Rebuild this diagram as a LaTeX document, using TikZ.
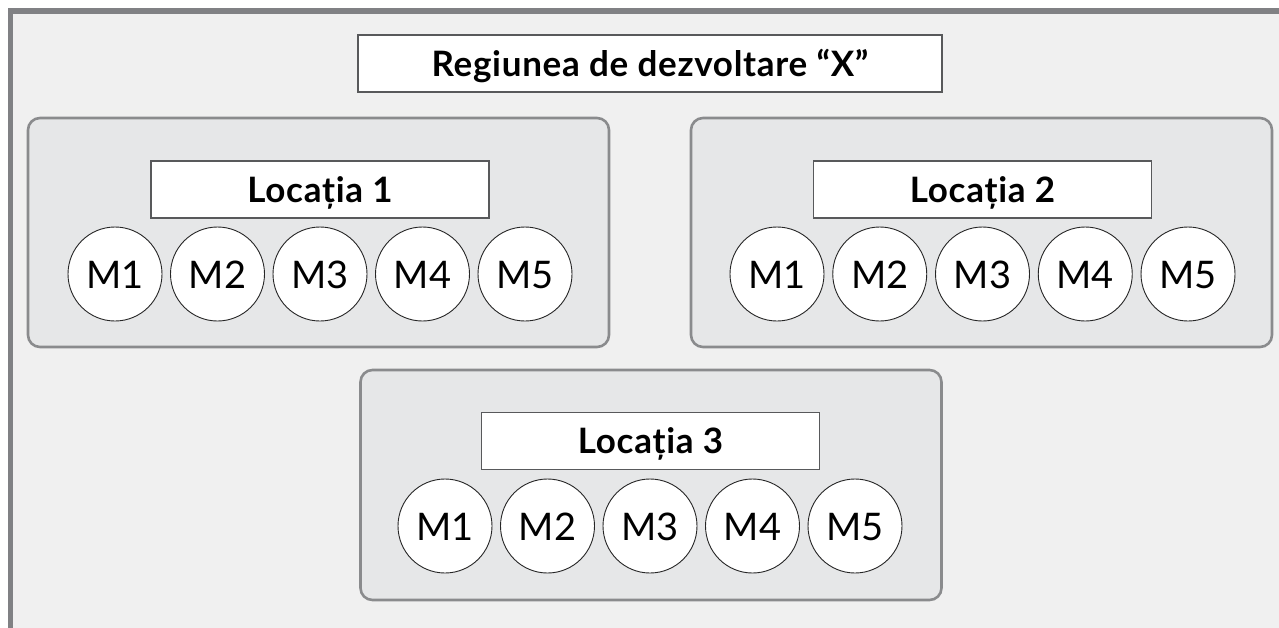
\documentclass[tikz,border=0pt]{standalone}
\usepackage{fontspec}
\setmainfont{Lato}[Numbers=Lining]
\definecolor{frameGray}{HTML}{808184}
\definecolor{pageGray}{HTML}{F0F0F0}
\definecolor{regionGray}{HTML}{E6E7E8}
\definecolor{regionLine}{HTML}{8A8B8D}
\definecolor{labelLine}{HTML}{58595B}
\begin{document}
\begin{tikzpicture}[x=1pt, y=-1pt,
	regionBox/.style={rectangle, draw=regionLine, fill=regionGray, line width=2.6pt, rounded corners=12pt, minimum width=581pt, minimum height=229pt},
	labelBox/.style={rectangle, draw=labelLine, fill=white, line width=1.5pt, minimum width=338pt, minimum height=57pt, text height=25pt, text depth=0pt, font=\fontsize{35}{40}\selectfont\bfseries\addfontfeatures{LetterSpace=2}},
	machine/.style={circle, draw=black!85, fill=white, line width=0.9pt, minimum size=94pt, inner sep=0pt, text height=28pt, text depth=0pt, font=\fontsize{38}{44}\selectfont}]
\useasboundingbox (0,0) rectangle (1279,627);
\clip (0,0) rectangle (1279,627);
\fill[white] (0,0) rectangle (1279,627);
\draw[draw=frameGray, fill=pageGray, line width=5.5pt] (10.5,11) rectangle (1300,650);

\node[labelBox, minimum width=584pt](regionTitle) at (650,63.5){Regiunea de dezvoltare ``X''};

% Locatia 1
\node[regionBox](loc1Box) at (318.5,232.5){};
	\node[labelBox](loc1Label) at (320,189.5){Locația 1};
	\node[machine](loc1M1) at (115,274){M1};
	\node[machine](loc1M2) at (217.5,274){M2};
	\node[machine](loc1M3) at (320,274){M3};
	\node[machine](loc1M4) at (422.5,274){M4};
	\node[machine](loc1M5) at (525,274){M5};

% Locatia 2
\node[regionBox](loc2Box) at (981.5,232.5){};
	\node[labelBox](loc2Label) at (982.5,189.5){Locația 2};
	\node[machine](loc2M1) at (777,274){M1};
	\node[machine](loc2M2) at (879.75,274){M2};
	\node[machine](loc2M3) at (982.5,274){M3};
	\node[machine](loc2M4) at (1085.25,274){M4};
	\node[machine](loc2M5) at (1188,274){M5};

% Locatia 3
\node[regionBox, minimum height=230pt](loc3Box) at (651,485){};
	\node[labelBox](loc3Label) at (650.5,441){Locația 3};
	\node[machine](loc3M1) at (445,526){M1};
	\node[machine](loc3M2) at (547.5,526){M2};
	\node[machine](loc3M3) at (650,526){M3};
	\node[machine](loc3M4) at (752.5,526){M4};
	\node[machine](loc3M5) at (855,526){M5};
\end{tikzpicture}
\end{document}
